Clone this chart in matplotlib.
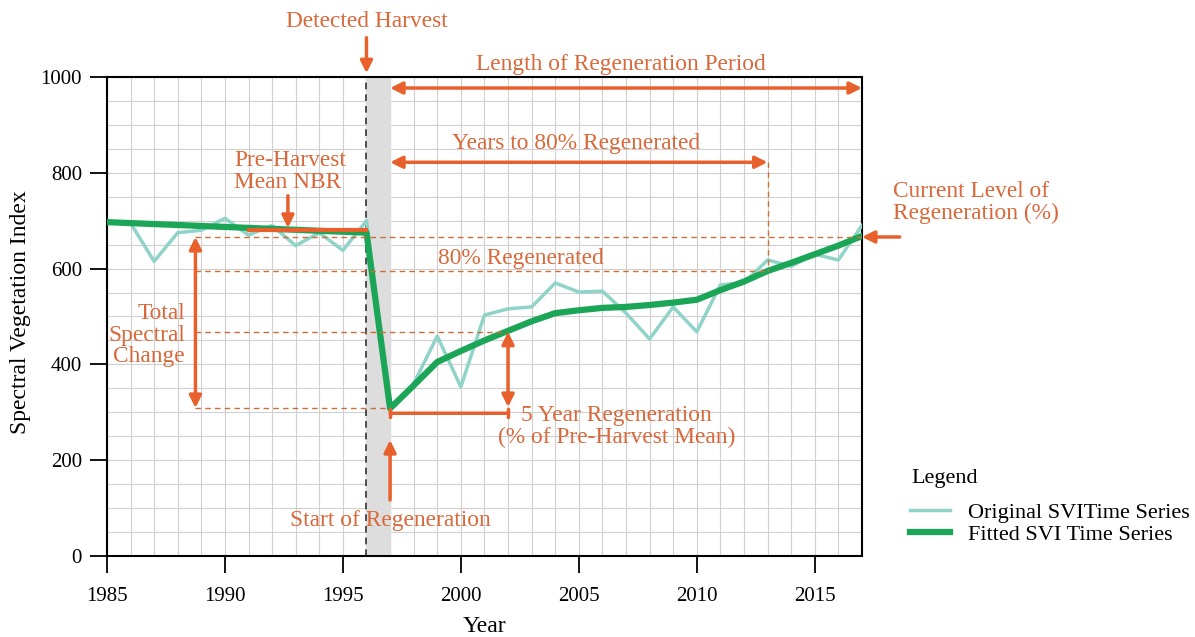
import matplotlib
matplotlib.use("Agg")
import matplotlib.pyplot as plt

plt.rcParams['font.family'] = ['Liberation Serif', 'DejaVu Serif']

# data
years = list(range(1985, 2018))
original_svi = [697, 695, 615, 675, 680, 705, 670, 690, 648, 675, 638, 700,
                305, 360, 459, 353, 503, 516, 520, 570, 551, 553, 507, 453,
                520, 468, 566, 570, 618, 605, 630, 618, 690]
fitted_svi = [697, 695, 693, 691, 689, 687, 685, 683, 681, 679, 677, 675,
              308, 356, 405, 428, 450, 470, 490, 507, 513, 518, 520, 524,
              529, 535, 555, 573, 595, 612, 630, 648, 668]

harvest_year = 1996
start_regen = 1997
end_year = 2017
year_80 = 2013
pre_mean = 680
level_current = 666
level_80 = 595
level_5yr = 468
level_min = 309

orange = '#E8602C'
text_orange = '#D9683A'
dash_col = '#C8703C'
teal = '#8FD3C9'
green = '#1BA657'

fig = plt.figure(figsize=(11.95, 6.37), dpi=100)
ax = fig.add_axes([0.0895, 0.1272, 0.6318, 0.7519])

# grid
ax.set_xticks(years, minor=True)
ax.set_yticks(range(0, 1001, 50), minor=True)
ax.grid(which='both', color='#D0D0D0', linewidth=0.8)
ax.set_axisbelow(True)

ax.axvspan(harvest_year, start_regen, color='#DDDDDD', zorder=1)
ax.axvline(harvest_year, color='#333333', linestyle=(0, (4, 3)), linewidth=1.2, zorder=2)

ax.plot(years, original_svi, color=teal, linewidth=2.5, label='Original SVITime Series', zorder=3)
ax.plot(years, fitted_svi, color=green, linewidth=4.5, label='Fitted SVI Time Series', zorder=4)

# dashed guide lines
dkw = dict(color=dash_col, linestyle=(0, (4, 3)), linewidth=1.0, zorder=5)
ax.plot([1988.75, end_year], [level_current] * 2, **dkw)
ax.plot([1988.75, year_80], [level_80] * 2, **dkw)
ax.plot([1988.75, 2002], [level_5yr] * 2, **dkw)
ax.plot([1988.75, start_regen], [level_min] * 2, **dkw)
ax.plot([year_80, year_80], [822, level_80], **dkw)

# pre-harvest mean
ax.plot([1991, harvest_year], [pre_mean] * 2, color=orange, linewidth=3, zorder=6)

akw = dict(arrowstyle='-|>', color=orange, lw=2.5, mutation_scale=18, shrinkA=0, shrinkB=0)
dakw = dict(arrowstyle='<|-|>', color=orange, lw=2.5, mutation_scale=18, shrinkA=0, shrinkB=0)
fs = 16.8
tkw = dict(color=text_orange, fontsize=fs, ha='center', va='center', linespacing=1.05)


def arrow(xy, xytext, props):
    ax.annotate('', xy=xy, xytext=xytext, arrowprops=props, annotation_clip=False, zorder=7)


# detected harvest
ax.text(harvest_year, 1115, 'Detected Harvest', clip_on=False, **tkw)
arrow((harvest_year, 1008), (harvest_year, 1082), akw)

# length of regeneration period
ax.text(2006.8, 1027, 'Length of Regeneration Period', clip_on=False, **tkw)
arrow((end_year, 977), (start_regen, 977), dakw)

# years to 80%
ax.text(2004.9, 862, 'Years to 80% Regenerated', **tkw)
arrow((year_80, 822), (start_regen, 822), dakw)

ax.text(2002.55, 622, '80% Regenerated', **tkw)

# pre-harvest mean
ax.text(1990.4, 802, 'Pre-Harvest\nMean NBR', color=text_orange, fontsize=fs,
        ha='left', va='center', linespacing=1.05)
arrow((1992.67, 685), (1992.67, 752), akw)

# total spectral change
ax.text(1988.3, 461, 'Total\nSpectral\nChange', color=text_orange, fontsize=fs,
        ha='right', va='center', linespacing=1.05, multialignment='right')
arrow((1988.75, level_current), (1988.75, level_min), dakw)

# 5 year regeneration
arrow((2002, level_5yr), (2002, 311), dakw)
ax.annotate('', xy=(2002, 298), xytext=(start_regen, 298),
            arrowprops=dict(arrowstyle='|-|, widthA=0.3, widthB=0.3', color=orange, lw=2.5,
                            shrinkA=0, shrinkB=0), zorder=7)
ax.text(2006.6, 271, '5 Year Regeneration\n(% of Pre-Harvest Mean)', **tkw)

# start of regeneration
arrow((start_regen, 242), (start_regen, 117), akw)
ax.text(start_regen, 75, 'Start of Regeneration', **tkw)

# current level
ax.text(2018.3, 737, 'Current Level of\nRegeneration (%)', color=text_orange, fontsize=fs,
        ha='left', va='center', linespacing=1.05, clip_on=False)
arrow((end_year, level_current), (2018.6, level_current), akw)

ax.set_xlim(1985, 2017)
ax.set_ylim(0, 1000)
ax.set_xticks(range(1985, 2016, 5))
ax.set_yticks(range(0, 1001, 200))
ax.tick_params(which='major', direction='out', length=12, width=1.3, labelsize=15)
ax.tick_params(axis='x', which='major', pad=10)
ax.tick_params(axis='y', which='major', pad=6)
ax.tick_params(which='minor', length=0)
for s in ax.spines.values():
    s.set_linewidth(1.5)
ax.set_xlabel('Year', fontsize=17, va='center')
ax.xaxis.set_label_coords(0.5, -0.148)
ax.set_ylabel('Spectral Vegetation Index', fontsize=17, va='center')
ax.yaxis.set_label_coords(-0.115, 0.51)

# legend, title placed on its own so the entries can sit close together
fig.text(0.763, 0.2496, 'Legend', fontsize=16, ha='left', va='center')
leg = fig.legend(loc='upper left', bbox_to_anchor=(0.7615, 0.2117), frameon=False,
                 fontsize=16, handlelength=1.8, handletextpad=0.8, labelspacing=0.08,
                 borderaxespad=0, borderpad=0)

fig.savefig('out.png', dpi=100)
